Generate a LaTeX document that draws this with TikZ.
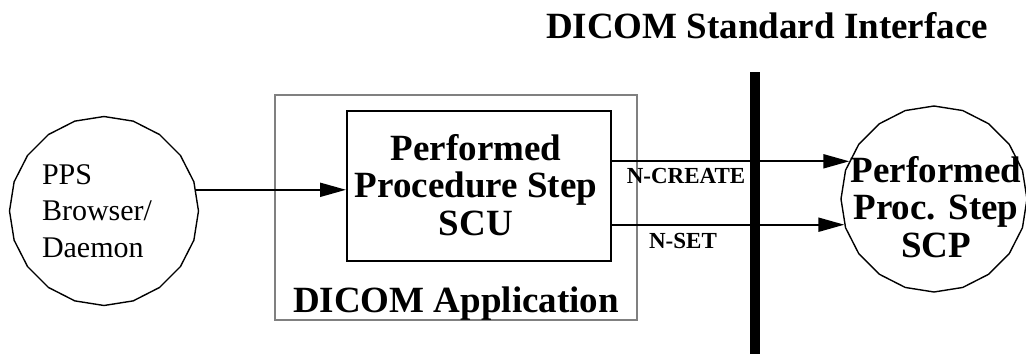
\documentclass[tikz,border=0pt]{standalone}
\usepackage{fontspec}
\setmainfont{Liberation Serif}
\usetikzlibrary{shapes.geometric,arrows.meta}
\begin{document}
\begin{tikzpicture}[x=1pt,y=-1pt,
  conn/.style={line width=2pt, -{Triangle[length=26pt,width=14pt]}},
  blob/.style={draw, line width=1.4pt, shape=regular polygon, regular polygon sides=20,
    shape border rotate=9, inner sep=0pt},
  bigtext/.style={font=\fontsize{37}{37.5}\selectfont\bfseries, inner sep=0pt},
  smalltext/.style={font=\fontsize{23}{25}\selectfont\bfseries, inner sep=0pt},
  plaintext/.style={font=\fontsize{30}{36.5}\selectfont, inner sep=0pt}]
\useasboundingbox (0,0) rectangle (1026,354);
% title
\node[bigtext, anchor=base] (title) at (767,38) {DICOM Standard Interface};
% interface bar
\node[fill=black, inner sep=0pt, minimum width=10pt, minimum height=282pt] (bar) at (755,213) {};
% left blob
\node[blob, minimum size=189pt] (pps) at (104,211) {};
\node[plaintext, text width=124pt, align=left] (ppstext) at (104,211) {PPS\\Browser/\\Daemon};
% application box
\node[draw=black!50, line width=2pt, minimum width=362pt, minimum height=225pt, inner sep=0pt] (app) at (456,207.5) {};
\node[bigtext, anchor=base] (applabel) at (456,312) {DICOM Application};
% SCU box
\node[draw, line width=2pt, minimum width=264pt, minimum height=150pt, inner sep=0pt] (scu) at (479,186) {};
\node[bigtext, align=center] (scutext) at (476,185) {Performed\\Procedure Step\\SCU};
% right blob
\node[blob, minimum size=186pt] (scp) at (934,199) {};
\node[bigtext, align=center] (scptext) at (936,207) {Performed\\Proc. Step\\SCP};
% connectors
\draw[conn] (pps.13) -- (scu.west |- pps.13);
\draw[conn] (scu.east |- scp.156) -- (scp.156);
\draw[conn] (scu.east |- scp.196) -- (scp.196);
% labels
\node[smalltext, anchor=base] (ncreate) at (686,183) {N-CREATE};
\node[smalltext, anchor=base] (nset) at (683,248) {N-SET};
\end{tikzpicture}
\end{document}
